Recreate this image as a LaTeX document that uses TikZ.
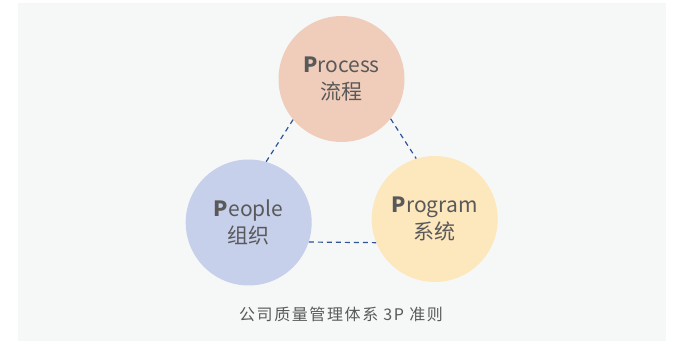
\documentclass[tikz,border=0pt]{standalone}
\usepackage{fontspec}
\usepackage{xcolor}
\newfontfamily\cjk{Noto Sans CJK SC}
\newfontfamily\cjkcap[LetterSpace=10]{Noto Sans CJK SC}
\definecolor{bgGray}{HTML}{F6F8F8}
\definecolor{processFill}{HTML}{F0CDBA}
\definecolor{peopleFill}{HTML}{C7D0EB}
\definecolor{programFill}{HTML}{FDE7BD}
\definecolor{linkBlue}{HTML}{2F5597}
\definecolor{textGray}{HTML}{595959}
\newcommand{\threeP}[2]{% rest of word, chinese
  \textbf{P}#1\\#2%
}

\begin{document}
\begin{tikzpicture}[x=1pt,y=-1pt,
  pcircle/.style={circle,minimum size=126pt,inner sep=0pt,align=center,
    text=textGray,font=\cjk\fontsize{21}{27}\selectfont},
  link/.style={draw=linkBlue,line width=1.2pt,dash pattern=on 5pt off 4pt}]
% Page and background
\useasboundingbox (0,0) rectangle (673,342);
\fill[bgGray] (18,3) rectangle (666,341);

% Three circles
\node[pcircle,fill=processFill] (process) at (341.5,79) {\threeP{rocess}{流程}};
\node[pcircle,fill=peopleFill] (people) at (248.7,222.5) {\threeP{eople}{组织}};
\node[pcircle,fill=programFill] (program) at (434.7,219) {\threeP{rogram}{系统}};

% Dashed links
\draw[link] (process.220) -- (people.74);
\draw[link] (process.321) -- (program.107);
\draw[link] (people.342) -- (program.202);

% Caption
\node[text=textGray,font=\cjkcap\fontsize{16}{18}\selectfont] (caption) at (341,314) {公司质量管理体系 3P 准则};
\end{tikzpicture}
\end{document}
